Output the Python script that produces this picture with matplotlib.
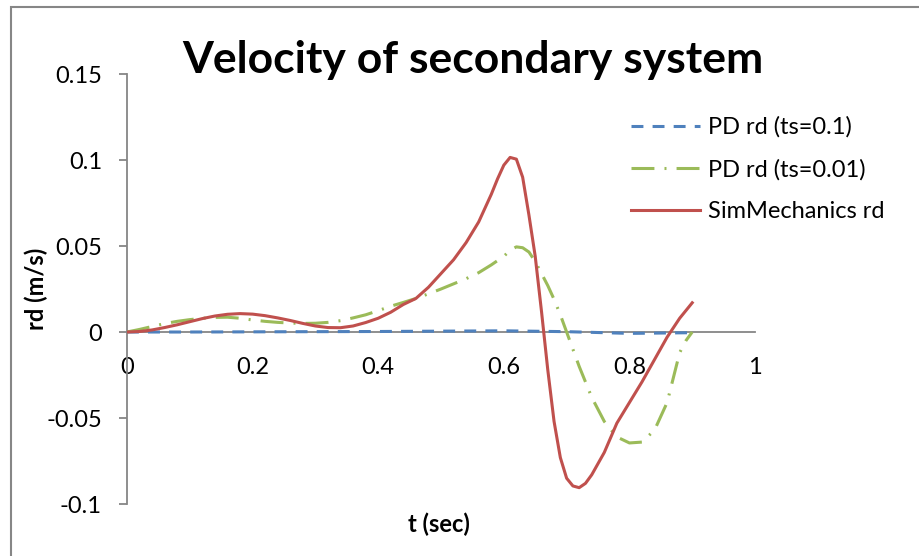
import numpy as np
import matplotlib
matplotlib.use('Agg')
import matplotlib.pyplot as plt
from matplotlib.patches import Rectangle

plt.rcParams['font.family'] = ['Lato', 'DejaVu Sans']

# PD controller, sample time 0.1 s
t_pd1 = [0.0, 0.1, 0.2, 0.3, 0.4, 0.5, 0.6, 0.7, 0.8, 0.9]
rd_pd1 = [0.0, 0.0, 0.0001, 0.0002, 0.0003, 0.0005, 0.0007, 0.0002, -0.0008, -0.0004]

# PD controller, sample time 0.01 s
t_pd2 = [0.00, 0.02, 0.04, 0.06, 0.08, 0.10, 0.12, 0.14, 0.16, 0.18,
         0.20, 0.22, 0.24, 0.26, 0.28, 0.30, 0.32, 0.34, 0.36, 0.38,
         0.40, 0.42, 0.44, 0.46, 0.48, 0.50, 0.52, 0.54, 0.56, 0.58,
         0.60, 0.61, 0.62, 0.63, 0.64, 0.65, 0.66, 0.67, 0.68, 0.69,
         0.70, 0.72, 0.74, 0.76, 0.78, 0.80, 0.82, 0.84, 0.86, 0.88,
         0.89, 0.90]
rd_pd2 = [0.0, 0.0015, 0.0032, 0.0049, 0.0062, 0.0072, 0.0080, 0.0085, 0.0086, 0.0080,
          0.0070, 0.0062, 0.0056, 0.0052, 0.0050, 0.0051, 0.0056, 0.0066, 0.0082, 0.0100,
          0.0124, 0.0150, 0.0172, 0.0195, 0.0222, 0.0250, 0.0280, 0.0310, 0.0345, 0.0390,
          0.0440, 0.0475, 0.0495, 0.0490, 0.0465, 0.0410, 0.0340, 0.0270, 0.0190, 0.0100,
          0.0000, -0.0200, -0.0380, -0.0520, -0.0610, -0.0645, -0.0640, -0.0570, -0.0410, -0.0120,
          -0.0050, 0.0000]

# SimMechanics reference
t_sim = [0.00, 0.02, 0.04, 0.06, 0.08, 0.10, 0.12, 0.14, 0.16, 0.18,
         0.20, 0.22, 0.24, 0.26, 0.28, 0.30, 0.32, 0.34, 0.36, 0.38,
         0.40, 0.42, 0.44, 0.46, 0.48, 0.50, 0.52, 0.54, 0.56, 0.58,
         0.59, 0.60, 0.61, 0.62, 0.63, 0.64, 0.65, 0.66, 0.67, 0.68,
         0.69, 0.70, 0.71, 0.72, 0.73, 0.74, 0.76, 0.78, 0.80, 0.82,
         0.84, 0.86, 0.88, 0.90]
rd_sim = [0.0, 0.0003, 0.0012, 0.0026, 0.0042, 0.0060, 0.0078, 0.0093, 0.0103, 0.0107,
          0.0104, 0.0095, 0.0082, 0.0067, 0.0050, 0.0035, 0.0026, 0.0025, 0.0035, 0.0055,
          0.0080, 0.0115, 0.0160, 0.0195, 0.0260, 0.0340, 0.0420, 0.0520, 0.0640, 0.0800,
          0.0890, 0.0970, 0.1015, 0.1005, 0.0900, 0.0680, 0.0440, 0.0120, -0.0220, -0.0520,
          -0.0730, -0.0850, -0.0895, -0.0905, -0.0880, -0.0830, -0.0700, -0.0530, -0.0410, -0.0290,
          -0.0160, -0.0030, 0.0080, 0.0170]

fig = plt.figure(figsize=(9.2, 5.56), dpi=100)
ax = fig.add_axes([0.138, 0.0935, 0.6827, 0.7734])

ax.plot(t_pd1, rd_pd1, color='#4F81BD', lw=2.2, dashes=(3.9, 3.0),
        label='PD rd (ts=0.1)', zorder=3)
ax.plot(t_pd2, rd_pd2, color='#9BBB59', lw=2.2, dashes=(7.5, 3.3, 0.65, 3.3),
        label='PD rd (ts=0.01)', zorder=3)
ax.plot(t_sim, rd_sim, color='#C0504D', lw=2.2, label='SimMechanics rd', zorder=4)

ax.set_xlim(0, 1)
ax.set_ylim(-0.1, 0.15)
ax.set_xticks([0, 0.2, 0.4, 0.6, 0.8, 1])
ax.set_xticklabels(['0', '0.2', '0.4', '0.6', '0.8', '1'])
ax.set_yticks([-0.1, -0.05, 0, 0.05, 0.1, 0.15])
ax.set_yticklabels(['-0.1', '-0.05', '0', '0.05', '0.1', '0.15'])

for s in ['top', 'right']:
    ax.spines[s].set_visible(False)
ax.spines['bottom'].set_position(('data', 0))
for s in ['left', 'bottom']:
    ax.spines[s].set_color('#868686')
    ax.spines[s].set_linewidth(1.3)

ax.tick_params(axis='y', direction='out', length=6, width=1.3, color='#868686',
               labelsize=17, pad=12)
ax.tick_params(axis='x', length=0, labelsize=17, pad=18)

ax.set_ylabel('rd (m/s)', fontsize=17, fontweight='bold')
ax.yaxis.set_label_coords(-0.126, 0.5)
ax.set_xlabel('t (sec)', fontsize=17, fontweight='bold')
ax.xaxis.set_label_coords(0.497, -0.02)

fig.text(0.514, 0.892, 'Velocity of secondary system', fontsize=32,
         fontweight='bold', ha='center', va='center')

ax.legend(loc='upper left', bbox_to_anchor=(0.663, 0.829), bbox_transform=fig.transFigure,
          frameon=False, fontsize=17, handlelength=2.9, handletextpad=0.35,
          labelspacing=0.88)

# outer chart border
fig.patches.append(Rectangle((11 / 920, -0.5), 2.0, 0.5 + 1 - 7 / 556, fill=False,
                             edgecolor='#868686', lw=1.5, transform=fig.transFigure))

fig.savefig('out.png', dpi=100)
